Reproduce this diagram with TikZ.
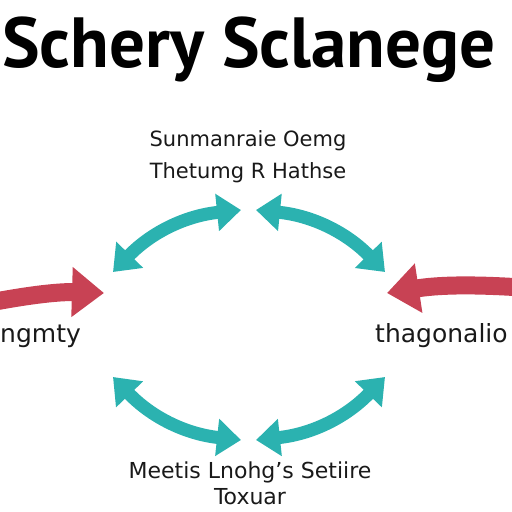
\documentclass[tikz,border=0pt]{standalone}
\usepackage{fontspec}
\setmainfont{DejaVu Sans}
\newfontfamily\titlefont{PT Sans}
\usetikzlibrary{arrows.meta}

\definecolor{tealarr}{RGB}{43,178,176}
\definecolor{redarr}{RGB}{200,66,84}
\definecolor{txt}{RGB}{25,25,25}

\tikzset{
  cycarrow/.style={line width=13pt, tealarr,
    {Triangle[length=24pt,width=36pt]}-{Triangle[length=24pt,width=36pt]}},
  sidearrow/.style={line width=18pt, redarr, -{Triangle[length=32pt,width=48pt]}},
  lbl/.style={text=txt, align=center, inner sep=0pt}
}

\begin{document}
\begin{tikzpicture}[x=1pt, y=-1pt]
    \useasboundingbox (0,0) rectangle (512,512);

    \node[anchor=base west, inner sep=0pt, text=black,
          font=\titlefont\bfseries\fontsize{71}{74}\selectfont] (title) at (2,67) {Schery Sclanege};

    \node[lbl, anchor=base, font=\fontsize{21}{32}\selectfont] (top) at (248,178) {Sunmanraie Oemg\\Thetumg R Hathse};
    \node[lbl, anchor=base west, font=\fontsize{25}{27}\selectfont] (left) at (0,342) {ngmty};
    \node[lbl, anchor=base west, font=\fontsize{25}{27}\selectfont] (right) at (375,342) {thagonalio};
    \node[lbl, anchor=base, font=\fontsize{22}{26}\selectfont] (bottom) at (250,504) {Meetis Lnohg's Setiire\\Toxuar};

    % cycle arrows
    \coordinate (tl1) at (113,272);  \coordinate (tl2) at (241,210);
    \coordinate (tr1) at (385,272);  \coordinate (tr2) at (256,210);
    \coordinate (bl1) at (113,377);  \coordinate (bl2) at (241,440);
    \coordinate (br1) at (385,377);  \coordinate (br2) at (256,440);

    \draw[cycarrow] (tl1) to[bend left=20] (tl2);
    \draw[cycarrow] (tr1) to[bend right=20] (tr2);
    \draw[cycarrow] (bl1) to[bend right=20] (bl2);
    \draw[cycarrow] (br1) to[bend left=20] (br2);

    % side arrows
    \coordinate (ls) at (-2,301);  \coordinate (le) at (104,293);
    \coordinate (rs) at (514,287); \coordinate (re) at (387,293);
    \draw[sidearrow] (ls) to[bend left=6] (le);
    \draw[sidearrow] (rs) to[bend right=6] (re);
\end{tikzpicture}
\end{document}
